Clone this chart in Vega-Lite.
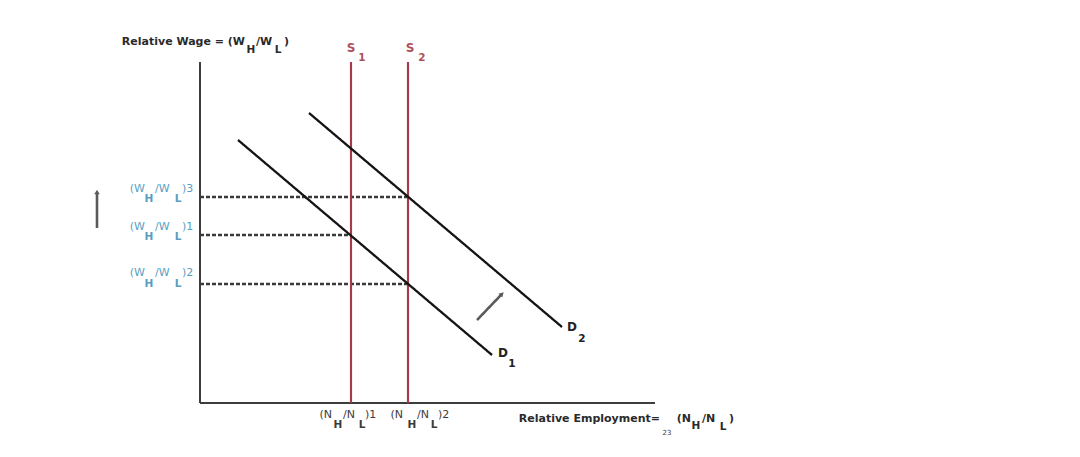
{
  "$schema": "https://vega.github.io/schema/vega-lite/v6.json",
  "width": 1080,
  "height": 457,
  "padding": 0,
  "autosize": {"type": "fit", "contains": "padding"},
  "background": "white",
  "config": {"view": {"stroke": null}, "text": {"font": "DejaVu Sans", "baseline": "middle"}},
  "datasets": {
    "segments": [
      {"kind": "guide", "x": 0, "y": 206, "x2": 208, "y2": 206},
      {"kind": "guide", "x": 0, "y": 168, "x2": 151, "y2": 168},
      {"kind": "guide", "x": 0, "y": 119, "x2": 208, "y2": 119},
      {"kind": "axis", "x": 0, "y": 0, "x2": 0, "y2": 341},
      {"kind": "axis", "x": 0, "y": 0, "x2": 455, "y2": 0},
      {"kind": "supply", "x": 151, "y": 0, "x2": 151, "y2": 341},
      {"kind": "supply", "x": 208, "y": 0, "x2": 208, "y2": 341},
      {"kind": "demand", "x": 38, "y": 263, "x2": 292, "y2": 48},
      {"kind": "demand", "x": 109, "y": 290, "x2": 362, "y2": 76},
      {"kind": "arrow", "x": 277, "y": 83, "x2": 301, "y2": 108},
      {"kind": "arrow", "x": -103, "y": 175, "x2": -103, "y2": 209}
    ],
    "heads": [
      {"dir": "diag", "x": 302, "y": 109},
      {"dir": "up", "x": -103, "y": 211}
    ],
    "labels": [
      {"label": "Relative Wage = (W", "part": "lead", "group": "title", "x": 45, "y": 361},
      {"label": "H", "part": "sub", "group": "title", "x": 51, "y": 353},
      {"label": "/W", "part": "mid", "group": "title", "x": 56, "y": 361},
      {"label": "L", "part": "sub", "group": "title", "x": 78, "y": 353},
      {"label": ")", "part": "tail", "group": "title", "x": 84, "y": 361},
      {"label": "Relative Employment=", "part": "lead", "group": "title", "x": 460, "y": -16},
      {"label": "23", "part": "tiny", "group": "emp", "x": 467, "y": -30},
      {"label": "(N", "part": "lead", "group": "title", "x": 491, "y": -16},
      {"label": "H", "part": "sub", "group": "title", "x": 496, "y": -23},
      {"label": "/N", "part": "mid", "group": "title", "x": 502, "y": -16},
      {"label": "L", "part": "sub", "group": "title", "x": 523, "y": -24},
      {"label": ")", "part": "tail", "group": "title", "x": 529, "y": -16},
      {"label": "S", "part": "letter", "group": "slabel", "x": 151, "y": 355},
      {"label": "1", "part": "sub", "group": "slabel", "x": 162, "y": 345},
      {"label": "S", "part": "letter", "group": "slabel", "x": 210, "y": 355},
      {"label": "2", "part": "sub", "group": "slabel", "x": 222, "y": 345},
      {"label": "D", "part": "letter", "group": "dlabel", "x": 303, "y": 50},
      {"label": "1", "part": "sub", "group": "dlabel", "x": 312, "y": 39},
      {"label": "D", "part": "letter", "group": "dlabel", "x": 372, "y": 76},
      {"label": "2", "part": "sub", "group": "dlabel", "x": 382, "y": 64},
      {"label": "(W", "part": "lead", "group": "wage", "x": -55, "y": 214},
      {"label": "H", "part": "sub", "group": "wage", "x": -51, "y": 204},
      {"label": "/W", "part": "mid", "group": "wage", "x": -45, "y": 214},
      {"label": "L", "part": "sub", "group": "wage", "x": -22, "y": 204},
      {"label": ")3", "part": "tail", "group": "wage", "x": -18, "y": 214},
      {"label": "(W", "part": "lead", "group": "wage", "x": -55, "y": 176},
      {"label": "H", "part": "sub", "group": "wage", "x": -51, "y": 166},
      {"label": "/W", "part": "mid", "group": "wage", "x": -45, "y": 176},
      {"label": "L", "part": "sub", "group": "wage", "x": -22, "y": 166},
      {"label": ")1", "part": "tail", "group": "wage", "x": -18, "y": 176},
      {"label": "(W", "part": "lead", "group": "wage", "x": -55, "y": 130},
      {"label": "H", "part": "sub", "group": "wage", "x": -51, "y": 119},
      {"label": "/W", "part": "mid", "group": "wage", "x": -45, "y": 130},
      {"label": "L", "part": "sub", "group": "wage", "x": -22, "y": 119},
      {"label": ")2", "part": "tail", "group": "wage", "x": -18, "y": 130},
      {"label": "(N", "part": "lead", "group": "emp", "x": 132, "y": -12},
      {"label": "H", "part": "sub", "group": "emp", "x": 138, "y": -22},
      {"label": "/N", "part": "mid", "group": "emp", "x": 143, "y": -12},
      {"label": "L", "part": "sub", "group": "emp", "x": 162, "y": -22},
      {"label": ")1", "part": "tail", "group": "emp", "x": 165, "y": -12},
      {"label": "(N", "part": "lead", "group": "emp", "x": 203, "y": -12},
      {"label": "H", "part": "sub", "group": "emp", "x": 212, "y": -22},
      {"label": "/N", "part": "mid", "group": "emp", "x": 217, "y": -12},
      {"label": "L", "part": "sub", "group": "emp", "x": 234, "y": -22},
      {"label": ")2", "part": "tail", "group": "emp", "x": 238, "y": -12}
    ]
  },
  "encoding": {
    "x": {"field": "x", "type": "quantitative", "scale": {"domain": [-200, 880], "nice": false, "zero": false}, "axis": null},
    "y": {"field": "y", "type": "quantitative", "scale": {"domain": [-54, 403], "nice": false, "zero": false}, "axis": null}
  },
  "layer": [
    {
      "data": {"name": "segments"},
      "mark": {"type": "rule", "strokeCap": "butt"},
      "encoding": {
        "x2": {"field": "x2"},
        "y2": {"field": "y2"},
        "color": {"field": "kind", "type": "nominal", "legend": null,
          "scale": {"domain": ["axis", "supply", "demand", "guide", "arrow", "title", "wage", "emp", "slabel", "dlabel"],
                    "range": ["#3d3d3d", "#a63a4a", "#141414", "#3a3a3a", "#5a5a5a", "#2a2a2a", "#5a9ec2", "#3c3c3c", "#b0505e", "#222222"]}},
        "strokeWidth": {"field": "kind", "type": "ordinal", "legend": null,
          "scale": {"domain": ["axis", "supply", "demand", "guide", "arrow"], "range": [2, 2.6, 3, 1.3, 1.2]}},
        "strokeDash": {"field": "kind", "type": "nominal", "legend": null,
          "scale": {"domain": ["axis", "supply", "demand", "guide", "arrow"], "range": [[1, 0], [1, 0], [1, 0], [4, 2], [1, 0]]}}
      }
    },
    {
      "data": {"name": "heads"},
      "transform": [{"filter": "datum.dir == 'diag'"}],
      "mark": {"type": "point", "shape": "triangle-up", "filled": true, "angle": 45, "size": 30, "color": "#5a5a5a", "opacity": 1}
    },
    {
      "data": {"name": "heads"},
      "transform": [{"filter": "datum.dir == 'up'"}],
      "mark": {"type": "point", "shape": "triangle-up", "filled": true, "angle": 0, "size": 30, "color": "#5a5a5a", "opacity": 1}
    },
    {
      "data": {"name": "labels"},
      "transform": [{"filter": "datum.group == 'title' && datum.part == 'lead'"}],
      "mark": {"type": "text", "align": "right", "fontWeight": "bold", "fontSize": 11},
      "encoding": {"text": {"field": "label"}, "color": {"field": "group", "type": "nominal", "legend": null}}
    },
    {
      "data": {"name": "labels"},
      "transform": [{"filter": "datum.group == 'title' && (datum.part == 'mid' || datum.part == 'tail')"}],
      "mark": {"type": "text", "align": "left", "fontWeight": "bold", "fontSize": 11},
      "encoding": {"text": {"field": "label"}, "color": {"field": "group", "type": "nominal", "legend": null}}
    },
    {
      "data": {"name": "labels"},
      "transform": [{"filter": "datum.group == 'title' && datum.part == 'sub'"}],
      "mark": {"type": "text", "align": "center", "fontWeight": "bold", "fontSize": 10.5},
      "encoding": {"text": {"field": "label"}, "color": {"field": "group", "type": "nominal", "legend": null}}
    },
    {
      "data": {"name": "labels"},
      "transform": [{"filter": "datum.group != 'title' && datum.part == 'lead'"}],
      "mark": {"type": "text", "align": "right", "fontSize": 11},
      "encoding": {"text": {"field": "label"}, "color": {"field": "group", "type": "nominal", "legend": null}}
    },
    {
      "data": {"name": "labels"},
      "transform": [{"filter": "datum.group != 'title' && (datum.part == 'mid' || datum.part == 'tail')"}],
      "mark": {"type": "text", "align": "left", "fontSize": 11},
      "encoding": {"text": {"field": "label"}, "color": {"field": "group", "type": "nominal", "legend": null}}
    },
    {
      "data": {"name": "labels"},
      "transform": [{"filter": "datum.group != 'title' && datum.part == 'sub'"}],
      "mark": {"type": "text", "align": "center", "fontSize": 10.5, "fontWeight": 600},
      "encoding": {"text": {"field": "label"}, "color": {"field": "group", "type": "nominal", "legend": null}}
    },
    {
      "data": {"name": "labels"},
      "transform": [{"filter": "datum.part == 'letter'"}],
      "mark": {"type": "text", "align": "center", "fontSize": 12, "fontWeight": "bold"},
      "encoding": {"text": {"field": "label"}, "color": {"field": "group", "type": "nominal", "legend": null}}
    },
    {
      "data": {"name": "labels"},
      "transform": [{"filter": "datum.part == 'tiny'"}],
      "mark": {"type": "text", "align": "center", "fontSize": 7},
      "encoding": {"text": {"field": "label"}, "color": {"field": "group", "type": "nominal", "legend": null}}
    }
  ]
}
